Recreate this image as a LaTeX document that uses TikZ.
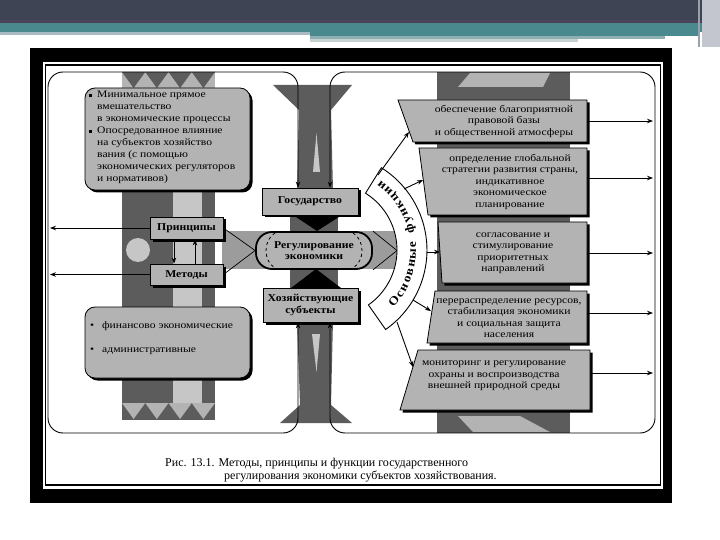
\documentclass[tikz,border=0pt]{standalone}
\usepackage{fontspec}
\setmainfont{Liberation Serif}
\newfontfamily\dfont[FakeStretch=1.12]{Liberation Serif}
\newfontfamily\tfont[FakeStretch=1.16]{Liberation Serif}
\usetikzlibrary{arrows.meta}
\definecolor{hdr}{HTML}{3F4454}
\definecolor{hdrb}{HTML}{4B4459}
\definecolor{tealA}{HTML}{4A898D}
\definecolor{hlA}{HTML}{A9BBC2}
\definecolor{hlB}{HTML}{8FB0B3}
\definecolor{hlC}{HTML}{C9D2D2}
\definecolor{hrA}{HTML}{9CA0AE}
\definecolor{hrB}{HTML}{C3C6CF}
\definecolor{dk}{HTML}{5C5C5C}
\definecolor{md}{HTML}{9C9C9C}
\definecolor{lt}{HTML}{B3B3B3}
\definecolor{lt2}{HTML}{C6C6C6}
\newcommand{\sqbul}{\makebox[8pt][l]{\rule[1pt]{3.2pt}{3.2pt}}}
\newcommand{\indbul}{\makebox[8pt][l]{}}
\newcommand{\rdbul}{\makebox[12pt][l]{\textbullet}}
\begin{document}
\begin{tikzpicture}[x=1pt,y=-1pt,
  arr/.style={-{Stealth[length=6pt,width=4.5pt]}},
  barr/.style={{Stealth[length=6pt,width=4.5pt]}-{Stealth[length=6pt,width=4.5pt]}},
  edge/.style={black,line width=0.9pt},
  lbl/.style={font=\dfont\bfseries\fontsize{10.5}{11.5}\selectfont, align=center, inner sep=0pt},
  ftxt/.style={font=\tfont\fontsize{10}{11.5}\selectfont, align=center, inner sep=0pt},
  ltxt/.style={font=\tfont\fontsize{10}{12}\selectfont, align=left, inner sep=0pt, anchor=north west},
  gbox/.style={fill=lt, draw=black, line width=0.8pt},
  capt/.style={font=\fontsize{12}{14}\selectfont, inner sep=0pt, anchor=base west},
  arcl/.style={font=\dfont\bfseries\fontsize{12}{12}\selectfont, inner sep=0pt, anchor=base},
]
\useasboundingbox (0,0) rectangle (720,540);
\fill[white] (0,0) rectangle (720,540);
% ---------- header ----------
\fill[hdr] (0,0) rectangle (720,21);
\fill[hdrb] (0,20) rectangle (720,23);
\fill[tealA] (0,23) rectangle (720,32);
\fill[hlA] (0,32) rectangle (310,35);
\fill[tealA] (310,32) rectangle (700,36);
\fill[hlB] (310,36) rectangle (665,39);
\fill[hlC] (310,39) rectangle (578,42);
\fill[hrB] (702,0) rectangle (720,47);
\fill[hrA] (698,0) rectangle (700,47);
% ---------- frame ----------
\fill[black] (30,48) rectangle (672,503);
\fill[white] (43,62) rectangle (663,489);
\draw[black, line width=1.3pt] (45.5,65) rectangle (660.5,485);
% ---------- left column ----------
\fill[dk] (122,72) rectangle (215,420);
\fill[lt2] (173,88) rectangle (202,403);
\fill[lt] (122,72) rectangle (215,88);
\foreach \i in {0,...,3}
  \fill[dk] ({122+23.25*\i},72) -- ({145.25+23.25*\i},72) -- ({133.6+23.25*\i},88) -- cycle;
\fill[dk] (122,403) rectangle (215,420);
\foreach \i in {0,...,3}
  \fill[lt] ({122+23.25*\i},403) -- ({145.25+23.25*\i},403) -- ({133.6+23.25*\i},419) -- cycle;
\fill[lt2] (138,250) circle (12);
% ---------- central column ----------
\fill[dk] (273,85) -- (352,85) -- (331,110) -- (333,190) -- (297,190) -- (299,110) -- cycle;
\fill[lt2] (313,172) -- (316.5,133) -- (320,172) -- cycle;
\fill[dk] (290,213) rectangle (338,290);
\fill[dk] (297,320) -- (333,320) -- (331,405) -- (352,423) -- (280,423) -- (300,405) -- cycle;
\fill[lt2] (312,334) -- (320,334) -- (316.5,372) -- cycle;
\fill[md] (222,231) rectangle (397,269);
\fill[black] (293,215) -- (342,215) -- (317,231) -- cycle;
\fill[black] (291,288) -- (341,288) -- (316,269) -- cycle;
% ---------- right column ----------
\fill[dk] (437,72) rectangle (570,433);
\fill[lt] (458,87) -- (470,73) -- (550,73) -- (543,87) -- cycle;
\fill[lt] (458,416) -- (520,416) -- (550,432) -- (473,432) -- cycle;
% ---------- central boxes ----------
\fill[black] (264.5,190.5) rectangle (360.5,217.5);
\node[gbox, lbl, minimum width=96pt, minimum height=27pt] (gos) at (310,201.5) {Государство};
\fill[black] (265.5,290.5) rectangle (360.5,324.5);
\node[gbox, lbl, minimum width=95pt, minimum height=34pt] (hoz) at (310.5,305) {Хозяйствующие\\субъекты};
% ---------- panel outlines ----------
\coordinate (lx) at (298,0);
\coordinate (rx) at (330,0);
\draw[edge, barr, rounded corners=15pt] (gos.north -| lx) -- (298,72) -- (48,72) -- (48,433) -- (298,433) -- (hoz.south -| lx);
\draw[edge, barr, rounded corners=15pt] (gos.north -| rx) -- (330,72) -- (655,72) -- (655,433) -- (330,433) -- (hoz.south -| rx);
% ---------- left boxes ----------
\fill[black, rounded corners=10pt] (87.5,90.5) rectangle (252.5,192.5);
\draw[gbox, rounded corners=10pt] (85,88) rectangle (250,190);
\node[ltxt] (tb) at (89,91) {\sqbul Минимальное прямое\\
\indbul вмешательство\\
\indbul в экономические процессы\\
\sqbul Опосредованное влияние\\
\indbul на субъектов хозяйство\\
\indbul вания (с помощью\\
\indbul экономических регуляторов\\
\indbul и нормативов)};
\fill[black, rounded corners=10pt] (87.5,309.5) rectangle (252.5,380.5);
\draw[gbox, rounded corners=10pt] (85,307) rectangle (250,378);
\node[ltxt] (bb) at (90,321) {\rdbul финансово экономические\\[12pt]\rdbul административные};
\fill[black] (152.5,219.5) rectangle (225.5,241.5);
\node[gbox, lbl, minimum width=73pt, minimum height=22pt] (pr) at (186.5,228) {Принципы};
\fill[black] (152.5,266.5) rectangle (225.5,287.5);
\node[gbox, lbl, minimum width=73pt, minimum height=21pt] (met) at (186.5,274.5) {Методы};
\coordinate (xd) at (174,0);
\coordinate (xu) at (195,0);
\draw[edge, arr] (pr.south -| xd) -- (met.north -| xd);
\draw[edge, arr] (met.north -| xu) -- (pr.south -| xu);
\coordinate (la1) at (50,228);
\coordinate (la2) at (50,274.5);
\draw[edge, arr] (pr.west) -- (la1);
\draw[edge, arr] (met.west) -- (la2);
% ---------- regulation ----------
\node[draw, fill=lt, line width=1.8pt, rounded corners=16pt, minimum width=116pt, minimum height=37pt,
      lbl] (reg) at (314,250.5) {Регулирование\\экономики};
\draw[dashed, line width=0.8pt] (275,233) .. controls (263,240) and (263,261) .. (275,268);
\draw[dashed, line width=0.8pt] (353,233) .. controls (365,240) and (365,261) .. (353,268);
\draw[edge, line width=0.7pt] (pr.east) -- (reg.west);
\draw[edge, line width=0.7pt] (met.east) -- (reg.west);
% ---------- arc band ----------
\draw[edge, fill=white] (385.6,329.5) arc[start angle=55, end angle=-58, radius=97]
   -- (365.5,193.2) arc[start angle=-58, end angle=55, radius=67] -- cycle;
\coordinate (arcin) at (397,250.5);
\draw[edge, line width=0.7pt] (reg.north east) -- (arcin);
\draw[edge, line width=0.7pt] (reg.south east) -- (arcin);
\foreach \ch/\ang [count=\i] in {О/-38.8,с/-32.3,н/-26.8,о/-20.9,в/-15.3,н/-9.4,ы/-2.6,е/3.7,
    ф/14.8,у/21.3,н/27.1,к/33.1,ц/39.2,и/45.3,и/51.4}{
  \pgfmathsetmacro\rot{\ang+90}
  \node[arcl, rotate=\rot] (ch\i) at ({330+86*cos(\ang)},{250-86*sin(\ang)}) {\ch};
}
% ---------- right boxes ----------
\fill[black] (400.5,102.5) -- (589.5,102.5) -- (589.5,144.5) -- (415.5,144.5) -- cycle;
\draw[gbox] (398,100) -- (587,100) -- (587,142) -- (413,142) -- cycle;
\node[ftxt] (f1) at (504,121) {обеспечение благоприятной\\правовой базы\\и общественной атмосферы};
\fill[black] (421.5,150.5) -- (589.5,150.5) -- (589.5,217.5) -- (430.5,217.5) -- cycle;
\draw[gbox] (419,148) -- (587,148) -- (587,215) -- (428,215) -- cycle;
\node[ftxt] (f2) at (510,181.5) {определение глобальной\\стратегии развития страны,\\индикативное\\экономическое\\планирование};
\fill[black] (440.5,224.5) -- (589.5,224.5) -- (589.5,285.5) -- (444.5,285.5) -- cycle;
\draw[gbox] (438,222) -- (587,222) -- (587,283) -- (442,283) -- cycle;
\node[ftxt] (f3) at (513,253) {согласование и\\стимулирование\\приоритетных\\направлений};
\fill[black] (437.5,293.5) -- (589.5,293.5) -- (589.5,345.5) -- (429.5,345.5) -- cycle;
\draw[gbox] (435,291) -- (587,291) -- (587,343) -- (427,343) -- cycle;
\node[ftxt] (f4) at (509,318) {перераспределение ресурсов,\\стабилизация экономики\\и социальная защита\\населения};
\fill[black] (420.5,352.5) -- (592.5,352.5) -- (592.5,412.5) -- (402.5,412.5) -- cycle;
\draw[gbox] (418,350) -- (590,350) -- (590,410) -- (400,410) -- cycle;
\node[ftxt] (f5) at (494,376) {мониторинг и регулирование\\охраны и воспроизводства\\внешней природной среды};
% arrows from arc band to boxes
\coordinate (s1) at (378,175); \coordinate (t1) at (409,132);
\coordinate (s2) at (404,189); \coordinate (t2) at (423,180);
\coordinate (s3) at (427,252); \coordinate (t3) at (440,252);
\coordinate (s4) at (413,300); \coordinate (t4) at (431,311);
\coordinate (s5) at (397,322); \coordinate (t5) at (413,367);
\foreach \k in {1,...,5} \draw[edge, arr] (s\k) -- (t\k);
% arrows from boxes to right edge
\coordinate (e1) at (587,121);   \coordinate (r1) at (653,121);
\coordinate (e2) at (587,178);   \coordinate (r2) at (653,178);
\coordinate (e3) at (587,253);   \coordinate (r3) at (653,253);
\coordinate (e4) at (587,313);   \coordinate (r4) at (653,313);
\coordinate (e5) at (590,373);   \coordinate (r5) at (653,373);
\foreach \k in {1,...,5} \draw[edge, arr] (e\k) -- (r\k);
% ---------- caption ----------
\node[capt] (cap1) at (165,466) {Рис. 13.1. Методы, принципы и функции государственного};
\node[capt] (cap2) at (224,479) {регулирования экономики субъектов хозяйствования.};
\end{tikzpicture}
\end{document}
